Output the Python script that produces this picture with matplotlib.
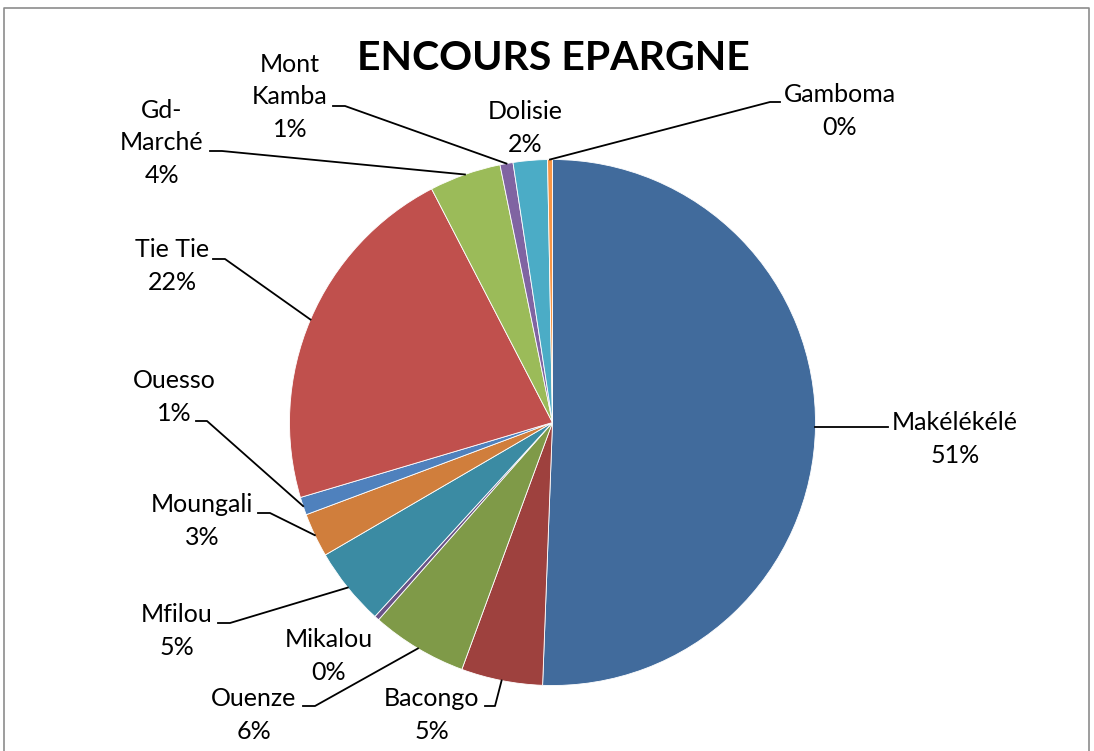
import numpy as np
import matplotlib
matplotlib.use("Agg")
import matplotlib.pyplot as plt

plt.rcParams['font.family'] = ['Lato', 'DejaVu Sans']

# donnees (en %)
agences = ["Makélékélé", "Bacongo", "Ouenze", "Mikalou", "Mfilou", "Moungali",
           "Ouesso", "Tie Tie", "Gd-Marché", "Mont Kamba", "Dolisie", "Gamboma"]
noms_affiches = ["Makélékélé", "Bacongo", "Ouenze", "Mikalou", "Mfilou", "Moungali",
                 "Ouesso", "Tie Tie", "Gd-\nMarché", "Mont\nKamba", "Dolisie", "Gamboma"]
encours = [50.6, 5.0, 5.9, 0.3, 4.8, 2.7, 1.1, 22.0, 4.4, 0.8, 2.1, 0.3]
couleurs = ["#416B9C", "#9E413E", "#7F9A48", "#695387", "#3B8BA3", "#D07E3C",
            "#4F81BD", "#C0504D", "#9BBB59", "#8064A2", "#4BACC6", "#F79646"]

W, H = 1094, 751
def py(y):
    # pixel (haut->bas) vers coordonnees de l'axe
    return H - y

# position du texte (centre) et coude de la ligne de rappel, en pixels
pos_texte = [(955, 439), (432, 715), (254, 715), (329, 656), (177, 631), (202, 521),
             (174, 397), (172, 266), (162, 143), (290, 97), (525, 128), (840, 111)]
coudes = [None, [(495, 706), (485, 706)], [(315, 706), (303, 706)], None,
          [(230, 623), (218, 623)], [(270, 513), (258, 513)], [(207, 421), (196, 421)],
          [(225, 259), (213, 259)], [(222, 151), (210, 151)], [(345, 106), (333, 106)],
          None, [(770, 102), (780, 102)]]

fig = plt.figure(figsize=(W / 100, H / 100), dpi=100)
ax = fig.add_axes([0, 0, 1, 1])

cx, cy, r = 552.5, py(422.5), 263
wedges, _ = ax.pie(encours, colors=couleurs, startangle=90, counterclock=False,
                   center=(cx, cy), radius=r,
                   wedgeprops=dict(edgecolor="white", linewidth=0.6))

for i, w in enumerate(wedges):
    label = noms_affiches[i] + "\n" + str(int(round(encours[i]))) + "%"
    tx, ty = pos_texte[i]
    ax.text(tx, py(ty), label, ha="center", va="center", fontsize=18,
            linespacing=1.5, color="black")
    theta = np.deg2rad((w.theta1 + w.theta2) / 2)
    ax_, ay_ = cx + r * np.cos(theta), cy + r * np.sin(theta)
    if i == 0:
        ax.plot([ax_, 888], [ay_, ay_], color="black", lw=1.3)
    elif coudes[i] is not None:
        (x1, y1), (x2, y2) = coudes[i]
        ax.plot([ax_, x1, x2], [ay_, py(y1), py(y2)], color="black", lw=1.3)

ax.text(553, py(59), "ENCOURS EPARGNE", ha="center", va="center",
        fontsize=29.5, fontweight="bold")

# cadre du graphique
ax.plot([4, 4, 1089, 1089], [-5, py(8), py(8), -5], color="#8C8C8C", lw=1.2)

ax.set_xlim(0, W)
ax.set_ylim(0, H)
ax.set_aspect("auto")
ax.axis("off")

fig.savefig("out.png", dpi=100)
